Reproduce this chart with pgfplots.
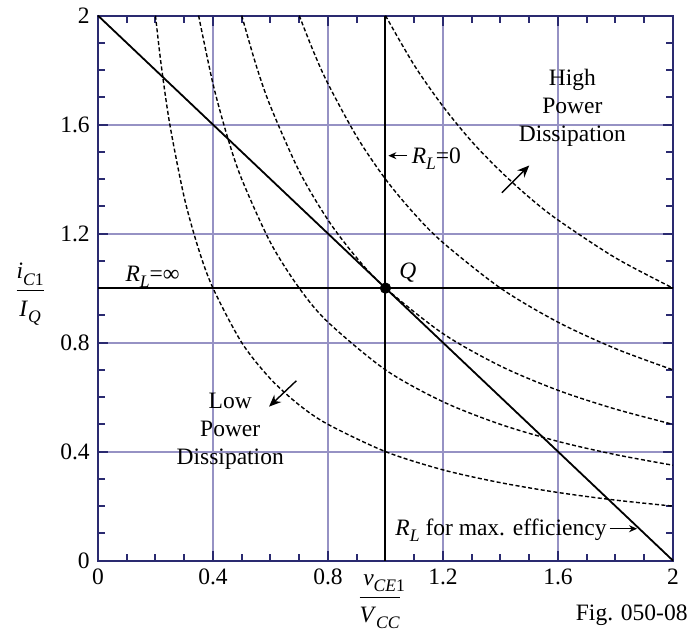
\documentclass[border=0pt]{standalone}
\usepackage{pgfplots}
\pgfplotsset{compat=1.18}
\usepackage{fontspec}
\setmainfont{Liberation Serif}
\usetikzlibrary{arrows.meta}
\definecolor{gridc}{RGB}{150,146,196}
\definecolor{axc}{RGB}{42,42,112}
\newcommand{\sub}[1]{\raisebox{-0.28em}{\fontsize{8.8}{10}\selectfont #1}}
\begin{document}
\fontsize{11.75}{14}\selectfont
\begin{tikzpicture}
\begin{axis}[scale only axis, width=287.5pt, height=272.5pt,
  xmin=0, xmax=2, ymin=0, ymax=2,
  xtick={0,0.4,0.8,1.2,1.6,2}, ytick={0,0.4,0.8,1.2,1.6,2},
  xticklabels={0,0.4,0.8,1.2,1.6,2}, yticklabels={0,0.4,0.8,1.2,1.6,2},
  minor tick num=3, tick align=inside,
  major tick length=5pt, minor tick length=3.5pt,
  every tick/.style={axc, line width=1pt},
  axis line style={axc, line width=1.1pt},
  grid=major, major grid style={gridc, line width=0.9pt},
  /pgf/number format/assume math mode=true,
  clip=false]
% power hyperbolas
\pgfplotsset{hyp/.style={black, line width=0.7pt, dash pattern=on 2pt off 1.2pt, smooth}}
\addplot[hyp] coordinates {(0.2,2) (0.22,1.818) (0.25,1.6) (0.3,1.333) (0.35,1.143) (0.4,1.0) (0.5,0.8) (0.6,0.667) (0.7,0.571) (0.8,0.5) (1.0,0.4) (1.2,0.333) (1.4,0.286) (1.6,0.25) (1.8,0.222) (2.0,0.2)};
\addplot[hyp] coordinates {(0.35,2) (0.4,1.75) (0.45,1.556) (0.5,1.4) (0.6,1.167) (0.7,1.0) (0.8,0.875) (1.0,0.7) (1.2,0.583) (1.4,0.5) (1.6,0.4375) (1.8,0.389) (2.0,0.35)};
\addplot[hyp] coordinates {(0.5,2) (0.55,1.818) (0.6,1.667) (0.7,1.429) (0.8,1.25) (0.9,1.111) (1.0,1.0) (1.2,0.833) (1.4,0.714) (1.6,0.625) (1.8,0.556) (2.0,0.5)};
\addplot[hyp] coordinates {(0.7,2) (0.75,1.867) (0.8,1.75) (0.9,1.556) (1.0,1.4) (1.1,1.273) (1.2,1.167) (1.4,1.0) (1.6,0.875) (1.8,0.778) (2.0,0.7)};
\addplot[hyp] coordinates {(1.0,2) (1.1,1.818) (1.2,1.667) (1.3,1.538) (1.4,1.429) (1.5,1.333) (1.6,1.25) (1.8,1.111) (2.0,1.0)};
% load lines
\addplot[black, line width=0.9pt] coordinates {(0,2) (2,0)};
\addplot[black, line width=0.9pt] coordinates {(0,1) (2,1)};
\addplot[black, line width=1pt] coordinates {(1,0) (1,2)};
\addplot[only marks, mark=*, mark size=2.6pt, black] coordinates {(1,1)};
% annotations
\node[anchor=base] at (axis cs:0.19,1.025) {\textit{R}\sub{\textit{L}}=∞};
\node[anchor=base west, inner sep=1pt] at (axis cs:1.04,1.035) {\textit{Q}};
\draw[-{Stealth[length=4pt,width=3.5pt]}, line width=0.6pt] (axis cs:1.075,1.486) -- (axis cs:1.01,1.486);
\node[anchor=west, inner sep=0pt] at (axis cs:1.09,1.475) {\textit{R}\sub{\textit{L}}=0};
\node[align=center, inner sep=0pt] at (axis cs:1.65,1.66) {High\\Power\\Dissipation};
\draw[-{Stealth[length=6pt,width=5pt]}, line width=0.7pt] (axis cs:1.405,1.35) -- (axis cs:1.5,1.45);
\node[align=center, inner sep=0pt] at (axis cs:0.46,0.475) {Low\\Power\\Dissipation};
\draw[-{Stealth[length=6pt,width=5pt]}, line width=0.7pt] (axis cs:0.69,0.66) -- (axis cs:0.595,0.565);
\node[anchor=east, inner sep=0pt] at (axis cs:1.77,0.112) {\textit{R}\sub{\textit{L}} for max. efficiency};
\draw[-{Stealth[length=4pt,width=3.5pt]}, line width=0.6pt] (axis cs:1.78,0.117) -- (axis cs:1.875,0.117);
% axis labels
\node at (rel axis cs:-0.118,0.492) {\begin{tabular}{@{}c@{}}\textit{i}\sub{\textit{C}1}\\[1.5pt]\hline\rule{0pt}{12.5pt}\textit{I}\sub{\textit{Q}}\end{tabular}};
\node at (rel axis cs:0.49,-0.069) {\begin{tabular}{@{}c@{}}\textit{v}\sub{\textit{CE}}\rlap{\sub{1}}\\[1.5pt]\hline\rule{0pt}{12.5pt}\textit{V}\sub{\textit{CC}}\end{tabular}};
\node[anchor=east, inner sep=0pt] at (rel axis cs:1.026,-0.101) {Fig. 050-08};
\path (rel axis cs:-0.1704,-0.1321) rectangle (rel axis cs:1.0296,1.0239);
\end{axis}
\end{tikzpicture}
\end{document}
